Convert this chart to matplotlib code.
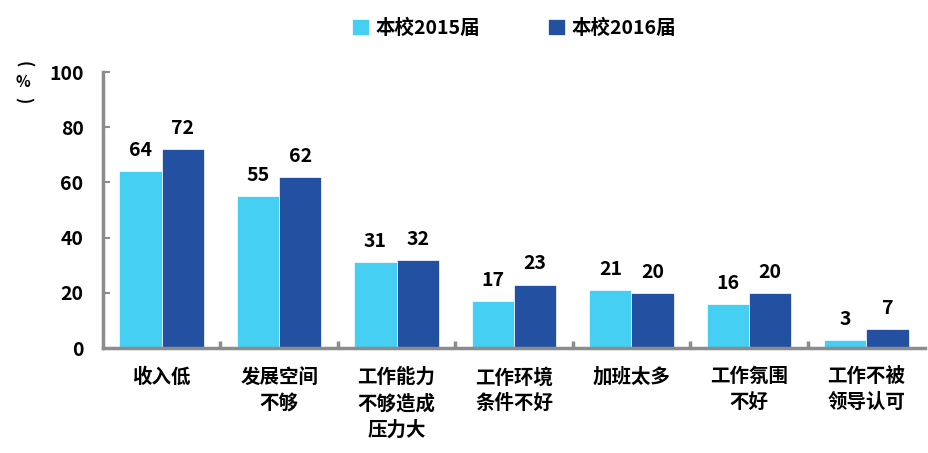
import matplotlib
matplotlib.use("Agg")
import matplotlib.pyplot as plt
import numpy as np

categories = ["收入低", "发展空间\n不够", "工作能力\n不够造成\n压力大", "工作环境\n条件不好", "加班太多", "工作氛围\n不好", "工作不被\n领导认可"]
series_names = ["本校2015届", "本校2016届"]
values_2015 = [64, 55, 31, 17, 21, 16, 3]
values_2016 = [72, 62, 32, 23, 20, 20, 7]
yticks = [0, 20, 40, 60, 80, 100]

plt.rcParams['font.family'] = ['Noto Sans CJK SC', 'DejaVu Sans']
c1 = "#45CFF2"
c2 = "#2350A0"
grey = "#8C8C8C"
FS = 14

fig = plt.figure(figsize=(9.29, 4.53), dpi=100)
ax = fig.add_axes([103/929, 105/453, 822/929, 276/453])
x = np.arange(len(categories))
w = 0.36
b1 = ax.bar(x - w/2, values_2015, w, color=c1, edgecolor="white", linewidth=0.5, label=series_names[0])
b2 = ax.bar(x + w/2, values_2016, w, color=c2, edgecolor="white", linewidth=0.5, label=series_names[1])
for bars, vals in ((b1, values_2015), (b2, values_2016)):
    for r, v in zip(bars, vals):
        ax.text(r.get_x() + r.get_width()/2, v + 4, str(v), ha="center", va="bottom",
                fontsize=FS, fontweight=900, color="black")

ax.set_xlim(-0.5, len(categories) - 0.5)
ax.set_ylim(0, 100)
ax.set_yticks(yticks)
ax.set_yticklabels([str(t) for t in yticks], fontsize=FS, fontweight=900)
ax.set_xticks(x)
ax.set_xticklabels(categories, fontsize=FS, fontweight=900, linespacing=1.45, va="top")
ax.tick_params(axis="x", length=0, pad=14)
ax.tick_params(axis="y", direction="in", length=5, width=1.5, color=grey, pad=14)
for s in ("top", "right"):
    ax.spines[s].set_visible(False)
for s in ("left", "bottom"):
    ax.spines[s].set_color(grey)
    ax.spines[s].set_linewidth(2.5)
ax.set_xticks(np.arange(0.5, len(categories) - 0.5, 1), minor=True)
ax.tick_params(axis="x", which="minor", direction="in", length=5, width=2.5, color=grey)

fig.text(23/929, 1 - 64/453, "(", ha="center", va="center", fontsize=12, fontweight=900, rotation=-90)
fig.text(23/929, 1 - 82/453, "%", ha="center", va="center", fontsize=11, fontweight=900)
fig.text(23/929, 1 - 100/453, ")", ha="center", va="center", fontsize=12, fontweight=900, rotation=-90)

fig.legend(handles=[b1, b2], labels=series_names, loc="center", bbox_to_anchor=(0.553, 1 - 28/453),
           ncol=2, frameon=False, prop={"weight": 900, "size": FS},
           handlelength=0.9, handleheight=0.9, handletextpad=0.3, columnspacing=3.5)

fig.savefig("out.png", dpi=100)
